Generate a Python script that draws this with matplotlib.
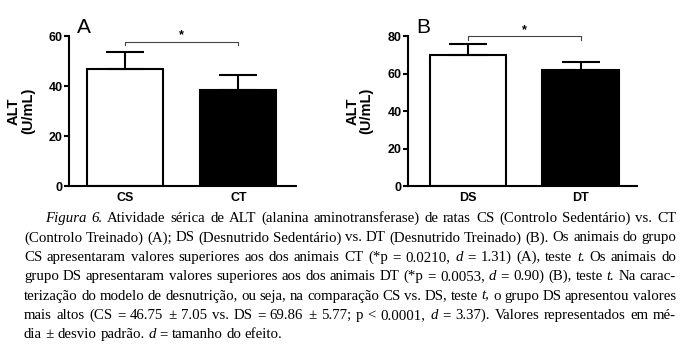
import matplotlib

matplotlib.use("Agg")
import matplotlib.pyplot as plt  # noqa: E402

# ---- data ----
groups_a = ["CS", "CT"]
means_a = [46.75, 38.5]
sd_a = [7.05, 5.8]

groups_b = ["DS", "DT"]
means_b = [69.86, 61.8]
sd_b = [5.77, 4.1]

bar_colors = ["white", "black"]

# significance bracket levels (y value of bar, y value of the little drops, star y)
sig_a = (57.5, 56.6, 60.3)
sig_b = (79.9, 78.0, 83.2)

caption_lines = [
    "~Figura~ ~6.~ Atividade sérica de ALT (alanina aminotransferase) de ratas CS (Controlo Sedentário) vs. CT",
    "(Controlo Treinado) (A); DS (Desnutrido Sedentário) vs. DT (Desnutrido Treinado) (B). Os animais do grupo",
    "CS apresentaram valores superiores aos dos animais CT (*p = 0.0210, ~d~ = 1.31) (A), teste ~t.~ Os animais do",
    "grupo DS apresentaram valores superiores aos dos animais DT (*p = 0.0053, ~d~ = 0.90) (B), teste ~t.~ Na carac-",
    "terização do modelo de desnutrição, ou seja, na comparação CS vs. DS, teste ~t,~ o grupo DS apresentou valores",
    "mais altos (CS = 46.75 ± 7.05 vs. DS = 69.86 ± 5.77; p < 0.0001, ~d~ = 3.37). Valores representados em mé-",
    "dia ± desvio padrão. ~d~ = tamanho do efeito.",
]

W, H = 700, 360
SANS = "Liberation Sans"
SERIF = "Liberation Serif"


def bar_panel(ax, groups, means, sds, ymax, yticks, sig, letter, width, xlim):
    x = list(range(len(groups)))
    ax.bar(x, means, width=width, color=bar_colors, edgecolor="black", linewidth=1.5, zorder=2)
    ax.errorbar(x, means, yerr=[[0] * len(sds), sds], fmt="none", ecolor="black",
                elinewidth=1.5, capsize=14, capthick=1.5, zorder=3)
    ax.set_xlim(*xlim)
    ax.set_ylim(0, ymax)
    ax.set_yticks(yticks)
    ax.set_xticks(x)
    ax.set_xticklabels(groups, fontfamily=SANS, fontweight="bold", fontsize=9)
    ax.set_yticklabels([str(t) for t in yticks], fontfamily=SANS, fontweight="bold", fontsize=9)
    ax.tick_params(axis="y", length=3.5, width=1.5, pad=1)
    ax.tick_params(axis="x", length=0, pad=4)
    for s in ("top", "right"):
        ax.spines[s].set_visible(False)
    for s in ("left", "bottom"):
        ax.spines[s].set_linewidth(1.5)
    ax.set_ylabel("ALT\n(U/mL)", fontfamily=SANS, fontweight="bold", fontsize=10.5,
                  linespacing=1.0)
    ax.yaxis.set_label_coords(-0.15, 0.5)
    # significance bracket
    top, drop, star_y = sig
    ax.plot([x[0], x[0], x[1], x[1]], [drop, top, top, drop], color="#444444", lw=0.8,
            clip_on=False, zorder=4)
    ax.text((x[0] + x[1]) / 2, star_y, "*", ha="center", va="center", fontsize=9,
            fontfamily=SANS, fontweight="bold", clip_on=False)
    ax.text(0.035, 1.06, letter, transform=ax.transAxes, fontsize=15, fontfamily=SANS,
            ha="left", va="center")


def draw_caption(fig, lines, x0, x1, indent, base_first, dy, size):
    """Justified caption, one text object per word (italic words wrapped in ~)."""
    renderer = fig.canvas.get_renderer()
    sp_w = 0.25 * size * 100 / 72
    for i, line in enumerate(lines):
        y = base_first + i * dy
        left = x0 + (indent if i == 0 else 0)
        objs = []
        for w in line.split(" "):
            ital = w.startswith("~") and w.endswith("~")
            t = fig.text(0, 1 - y / H, w.strip("~"), fontsize=size, fontfamily=SERIF,
                         style="italic" if ital else "normal", va="baseline", ha="left")
            objs.append(t)
        widths = [t.get_window_extent(renderer).width for t in objs]
        if i < len(lines) - 1 and len(objs) > 1:
            gap = (x1 - left - sum(widths)) / (len(objs) - 1)
        else:
            gap = sp_w
        xpos = left
        for t, wd in zip(objs, widths):
            t.set_x(xpos / W)
            xpos += wd + gap


fig = plt.figure(figsize=(7, 3.6), dpi=100)
ax_a = fig.add_axes([69 / W, 1 - 186 / H, 227 / W, 150 / H])
ax_b = fig.add_axes([408 / W, 1 - 186 / H, 229 / W, 150 / H])

bar_panel(ax_a, groups_a, means_a, sd_a, 60, [0, 20, 40, 60], sig_a, "A",
          0.67, (-0.493, 1.507))
bar_panel(ax_b, groups_b, means_b, sd_b, 80, [0, 20, 40, 60, 80], sig_b, "B",
          0.676, (-0.533, 1.502))

draw_caption(fig, caption_lines, 24, 676, 21, 222, 19.4, 10.7)

fig.savefig("out.png", dpi=100)
plt.close(fig)
